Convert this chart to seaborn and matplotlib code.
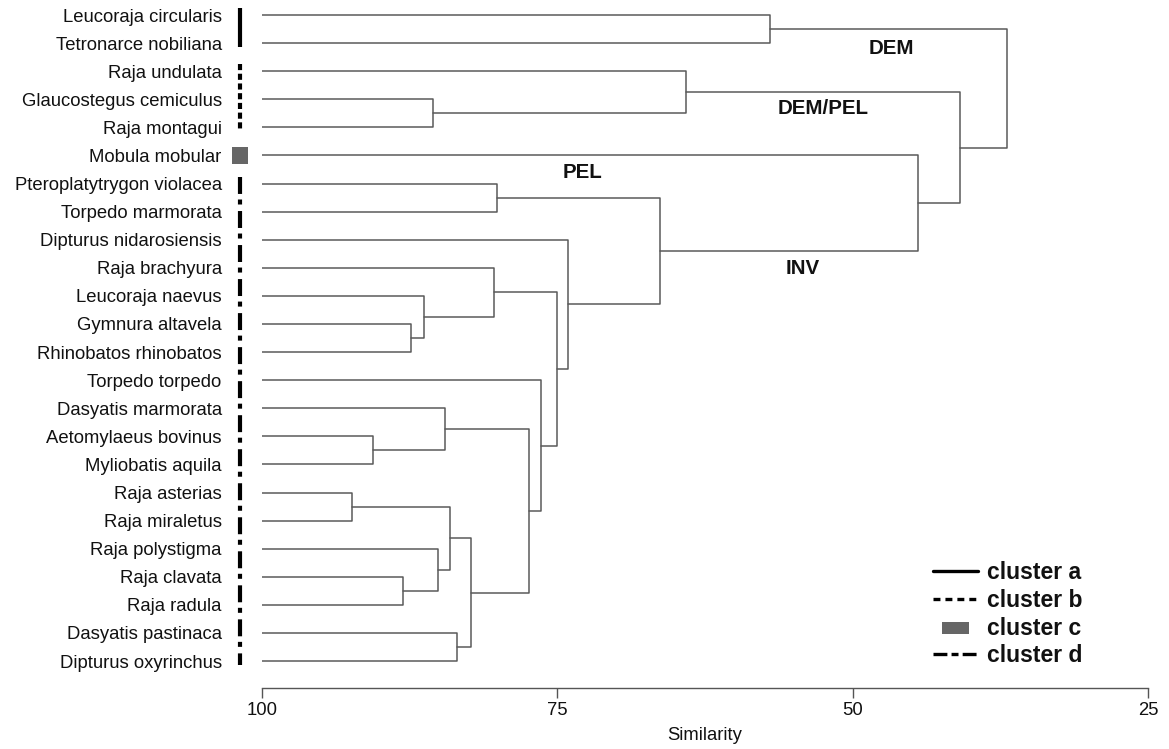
import matplotlib
matplotlib.use("Agg")
import matplotlib.pyplot as plt
import seaborn as sns
import pandas as pd
from matplotlib.lines import Line2D
from matplotlib.patches import Patch, Rectangle
from matplotlib.legend_handler import HandlerPatch
import matplotlib.transforms as mtransforms

# ---------------- data ----------------
species = [
    "Leucoraja circularis", "Tetronarce nobiliana", "Raja undulata",
    "Glaucostegus cemiculus", "Raja montagui", "Mobula mobular",
    "Pteroplatytrygon violacea", "Torpedo marmorata", "Dipturus nidarosiensis",
    "Raja brachyura", "Leucoraja naevus", "Gymnura altavela",
    "Rhinobatos rhinobatos", "Torpedo torpedo", "Dasyatis marmorata",
    "Aetomylaeus bovinus", "Myliobatis aquila", "Raja asterias",
    "Raja miraletus", "Raja polystigma", "Raja clavata", "Raja radula",
    "Dasyatis pastinaca", "Dipturus oxyrinchus",
]
cluster_of = ["a", "a", "b", "b", "b", "c"] + ["d"] * 18

# merges: (left node, right node, similarity); leaves are 0..23, new nodes 24.. in order
merge_left = [0, 3, 2, 6, 11, 10, 9, 15, 14, 17, 20, 19, 33, 22, 36, 32, 13, 30, 8, 27, 5, 26, 24]
merge_right = [1, 4, 25, 7, 12, 28, 29, 16, 31, 18, 21, 34, 35, 23, 37, 38, 39, 40, 41, 42, 43, 44, 45]
merge_sim = [57.0, 85.5, 64.1, 80.1, 87.4, 86.3, 80.4, 90.6, 84.5, 92.4, 88.1, 85.1,
             84.1, 83.5, 82.3, 77.4, 76.4, 75.0, 74.1, 66.3, 44.5, 40.9, 36.9]

group_labels = ["DEM", "DEM/PEL", "PEL", "INV"]
group_sim = [46.7, 52.5, 72.9, 54.2]
group_row = [1.18, 3.32, 5.6, 9.04]

ticks = [100, 75, 50, 25]

# ---------------- build segments ----------------
n = len(species)
pos_y = {i: float(i) for i in range(n)}
pos_h = {i: 100.0 for i in range(n)}
rows = []
for k, (l, r, s) in enumerate(zip(merge_left, merge_right, merge_sim)):
    node = n + k
    yl, yr = pos_y[l], pos_y[r]
    hl, hr = pos_h[l], pos_h[r]
    for j, (xx, yy) in enumerate([(hl, yl), (s, yl), (s, yr), (hr, yr)]):
        rows.append({"seg": k, "order": j, "sim": xx, "row": yy})
    pos_y[node] = (yl + yr) / 2
    pos_h[node] = s
segs = pd.DataFrame(rows)

# ---------------- plot ----------------
sns.set_theme(style="white")
plt.rcParams["font.family"] = ["Liberation Sans", "DejaVu Sans"]
plt.rcParams["lines.scale_dashes"] = False

W, H = 1169, 749
fig = plt.figure(figsize=(W / 100, H / 100), dpi=100)
ax_left, ax_right, ax_top, ax_bot = 262, 1148, 1, 688
ax = fig.add_axes([ax_left / W, 1 - ax_bot / H, (ax_right - ax_left) / W, (ax_bot - ax_top) / H])

line_col = "#5a5a5a"
sns.lineplot(data=segs, x="sim", y="row", units="seg", estimator=None, sort=False,
             color=line_col, linewidth=1.1, ax=ax, legend=False)

ax.set_xlim(100, 25)
ax.set_ylim(23.96, -0.5)
ax.set_yticks(range(n))
ax.set_yticklabels(species, fontsize=13.3, color="#111111")
ax.tick_params(axis="y", length=0, pad=29)
ax.set_xticks(ticks)
ax.set_xticklabels([str(t) for t in ticks], fontsize=13.3, color="#111111")
ax.tick_params(axis="x", direction="out", length=7.2, width=1, color="#555555", pad=3, bottom=True)
ax.set_xlabel("Similarity", fontsize=13.3, labelpad=6, color="#111111")
ax.set_ylabel("")
for sp in ["left", "top", "right"]:
    ax.spines[sp].set_visible(False)
ax.spines["bottom"].set_color("#555555")
ax.spines["bottom"].set_linewidth(1)

# group labels
for t, sx, ry in zip(group_labels, group_sim, group_row):
    ax.text(sx, ry, t, fontsize=14.8, fontweight="bold", ha="center", va="center", color="#111111")

# cluster markers on the left
trans = mtransforms.blended_transform_factory(ax.transAxes, ax.transData)
mx = (240 - ax_left) / (ax_right - ax_left)
styles = {
    "a": dict(linestyle="-"),
    "b": dict(linestyle=(0, (4.4, 2.6))),
    "d": dict(linestyle=(0, (12.2, 4.0, 3.6, 4.7))),
}
for c in ["a", "b", "d"]:
    idx = [i for i, cc in enumerate(cluster_of) if cc == c]
    lo, hi = min(idx) - 0.25, max(idx) + 0.15
    ax.add_line(Line2D([mx, mx], [lo, hi], transform=trans, color="black", linewidth=3.0,
                       solid_capstyle="butt", dash_capstyle="butt", clip_on=False, **styles[c]))
for i, cc in enumerate(cluster_of):
    if cc == "c":
        sq_w = 16 / (ax_right - ax_left)
        ax.add_patch(Rectangle((mx - sq_w / 2, i - 0.29), sq_w, 0.58, transform=trans,
                               facecolor="#666666", edgecolor="none", clip_on=False))

# legend
def make_rect(legend, orig_handle, xdescent, ydescent, width, height, fontsize):
    w = width * 0.6
    return Rectangle((xdescent + (width - w) / 2, ydescent + height * 0.05), w, height * 0.75)

handles = [
    Line2D([], [], color="black", linewidth=2.4, linestyle="-"),
    Line2D([], [], color="black", linewidth=2.4, linestyle=(0, (5, 3.6)), dash_capstyle="butt"),
    Patch(facecolor="#666666", edgecolor="none"),
    Line2D([], [], color="black", linewidth=2.4, linestyle=(0, (10, 3, 5, 3)), dash_capstyle="butt"),
]
labels = ["cluster a", "cluster b", "cluster c", "cluster d"]
leg = fig.legend(handles, labels, loc="upper left", bbox_to_anchor=(933 / W, 1 - 561 / H),
                 frameon=False, prop={"size": 16.5, "weight": "bold"}, handlelength=1.95,
                 handletextpad=0.4, labelspacing=0.21, borderpad=0, borderaxespad=0,
                 handler_map={Patch: HandlerPatch(patch_func=make_rect)})
for t in leg.get_texts():
    t.set_color("#111111")

fig.savefig("out.png", dpi=100)
